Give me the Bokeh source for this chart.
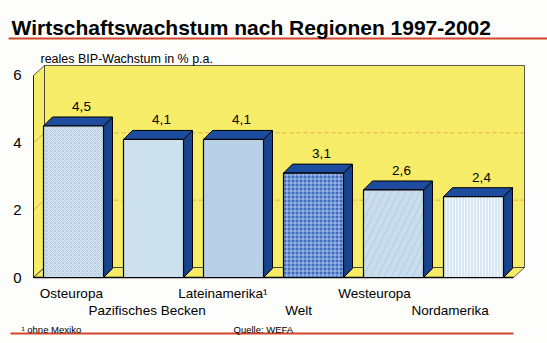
from bokeh.plotting import figure
from bokeh.models import Range1d, Label, ColumnDataSource
from bokeh.embed import file_html
from bokeh.resources import INLINE
from bokeh.core.properties import value

# ---------------- data ----------------
regions = ["Osteuropa", "Pazifisches Becken", "Lateinamerika\u00b9", "Welt", "Westeuropa", "Nordamerika"]
growth = [4.5, 4.1, 4.1, 3.1, 2.6, 2.4]
value_labels = ["4,5", "4,1", "4,1", "3,1", "2,6", "2,4"]
y_ticks = [0, 2, 4, 6]
y_tick_labels = ["0", "2", "4", "6"]
title_text = "Wirtschaftswachstum nach Regionen 1997-2002"
y_title = "reales BIP-Wachstum in % p.a."
footnote = "\u00b9 ohne Mexiko"
source_note = "Quelle: WEFA"

# ---------------- layout ----------------
W, H = 547, 343
PX_X = 80.0     # px per category
PX_Y = 33.67    # px per percentage point
X0 = 33.0       # px from left to category axis start
Y0 = 66.0       # px from bottom to value 0
FONT = "Liberation Sans"

YELLOW = "#f6ec68"
DARK = "#1d4c9f"
DARK_SIDE = "#17438f"
RED = "#d2462a"

n = len(regions)
ymax = 6

p = figure(width=W, height=H, output_backend="svg", toolbar_location=None,
           x_range=Range1d(-X0 / PX_X, (W - X0) / PX_X),
           y_range=Range1d(-Y0 / PX_Y, (H - Y0) / PX_Y),
           x_axis_location=None, y_axis_location=None, min_border=0)
p.grid.visible = False
p.outline_line_color = None
p.background_fill_color = "#fdfdfb"
p.border_fill_color = "#fdfdfb"

# wall depth
DX = 11 / PX_X
DY = 10 / PX_Y

# back wall, left wall, floor
p.patch([DX, n + DX, n + DX, DX], [DY, DY, ymax + DY, ymax + DY],
        fill_color=YELLOW, line_color="#333333", line_width=0.8)
p.patch([0, DX, DX, 0], [0, DY, ymax + DY, ymax], fill_color=YELLOW,
        line_color="#333333", line_width=0.8)
p.patch([0, n, n + DX, DX], [0, 0, DY, DY], fill_color=YELLOW,
        line_color="#333333", line_width=0.8)

# grid lines on back wall
for t in y_ticks[1:-1]:
    p.line([DX, n + DX], [t + DY, t + DY], line_color=RED, line_width=0.8,
           line_dash="4 3", line_alpha=0.5)
    p.line([0, DX], [t, t + DY], line_color=RED, line_width=0.8, line_alpha=0.5)

# front baseline and left edge
p.line([0, n], [0, 0], line_color="black", line_width=1.5)
p.line([0, 0], [0, ymax], line_color="#222222", line_width=1)

# bars
hw = 0.375
bdx = 9 / PX_X
bdy = 9 / PX_Y
centers = [i + 0.5 for i in range(n)]

front_fill = ["#d3e4f0", "#cde0ee", "#b7d0e7", "#3d6cc2", "#c9ddec", "#d6e7f3"]
hatch = ["diagonal_cross", " ", " ", "cross", "right_diagonal_line", "vertical_line"]
hatch_col = ["#9fbfdc", "#ffffff", "#ffffff", "#d9e6f7", "#a8c4df", "#ffffff"]
hatch_scale = [4, 4, 4, 4, 14, 3]

side_xs, side_ys, top_xs, top_ys, front_xs, front_ys = [], [], [], [], [], []
for c, v in zip(centers, growth):
    x0, x1 = c - hw, c + hw
    front_xs.append([x0, x1, x1, x0])
    front_ys.append([0, 0, v, v])
    top_xs.append([x0, x1, x1 + bdx, x0 + bdx])
    top_ys.append([v, v, v + bdy, v + bdy])
    side_xs.append([x1, x1 + bdx, x1 + bdx, x1])
    side_ys.append([0, bdy, v + bdy, v])

p.patches(side_xs, side_ys, fill_color=DARK_SIDE, line_color="black", line_width=1)
p.patches(top_xs, top_ys, fill_color=DARK, line_color="black", line_width=1)
front_src = ColumnDataSource(dict(xs=front_xs, ys=front_ys, fill=front_fill, hatch=hatch,
                                  hcol=hatch_col, hscale=hatch_scale))
p.patches("xs", "ys", source=front_src, fill_color="fill", line_color="black", line_width=1.2,
          hatch_pattern="hatch", hatch_color="hcol", hatch_scale="hscale",
          hatch_weight=1, hatch_alpha=0.7)

# value labels
p.text([c + 0.1 for c in centers], [v + bdy for v in growth], text=value_labels,
       text_font=value(FONT), text_font_size="13.5px", text_align="center",
       text_baseline="bottom", y_offset=-6, text_color="black")

# y tick labels
p.text([(17 - X0) / PX_X] * len(y_ticks), y_ticks, text=y_tick_labels,
       text_font=value(FONT), text_font_size="15px", text_align="center",
       text_baseline="middle", text_color="black")

# category labels (two staggered rows)
cat_x = [c * 0.947 for c in centers]
cat_y = [-(16 if i % 2 == 0 else 33) / PX_Y for i in range(n)]
p.text(cat_x, cat_y, text=regions, text_font=value(FONT), text_font_size="13.5px",
       text_align="center", text_baseline="middle", text_color="black")

# title, subtitle, notes
def lab(txt, x, y_top, size, bold=False, align="left"):
    p.add_layout(Label(x=x, y=H - y_top, x_units="screen", y_units="screen", text=txt,
                       text_font=FONT, text_font_size=size,
                       text_font_style="bold" if bold else "normal",
                       text_align=align, text_baseline="alphabetic", text_color="black"))

lab(title_text, 11, 27, "21px", bold=True)
lab(y_title, 40, 58, "12.5px")
lab(footnote, 21, 329, "9.5px")
lab(source_note, 233, 329, "9.5px")

# red rules
p.line([(8 - X0) / PX_X, (W - X0) / PX_X], [(H - 38 - Y0) / PX_Y] * 2, line_color=RED, line_width=2)
p.line([(10 - X0) / PX_X, (513 - X0) / PX_X], [(H - 333 - Y0) / PX_Y] * 2, line_color=RED, line_width=2)

open("out.html", "w").write(file_html(p, INLINE))
